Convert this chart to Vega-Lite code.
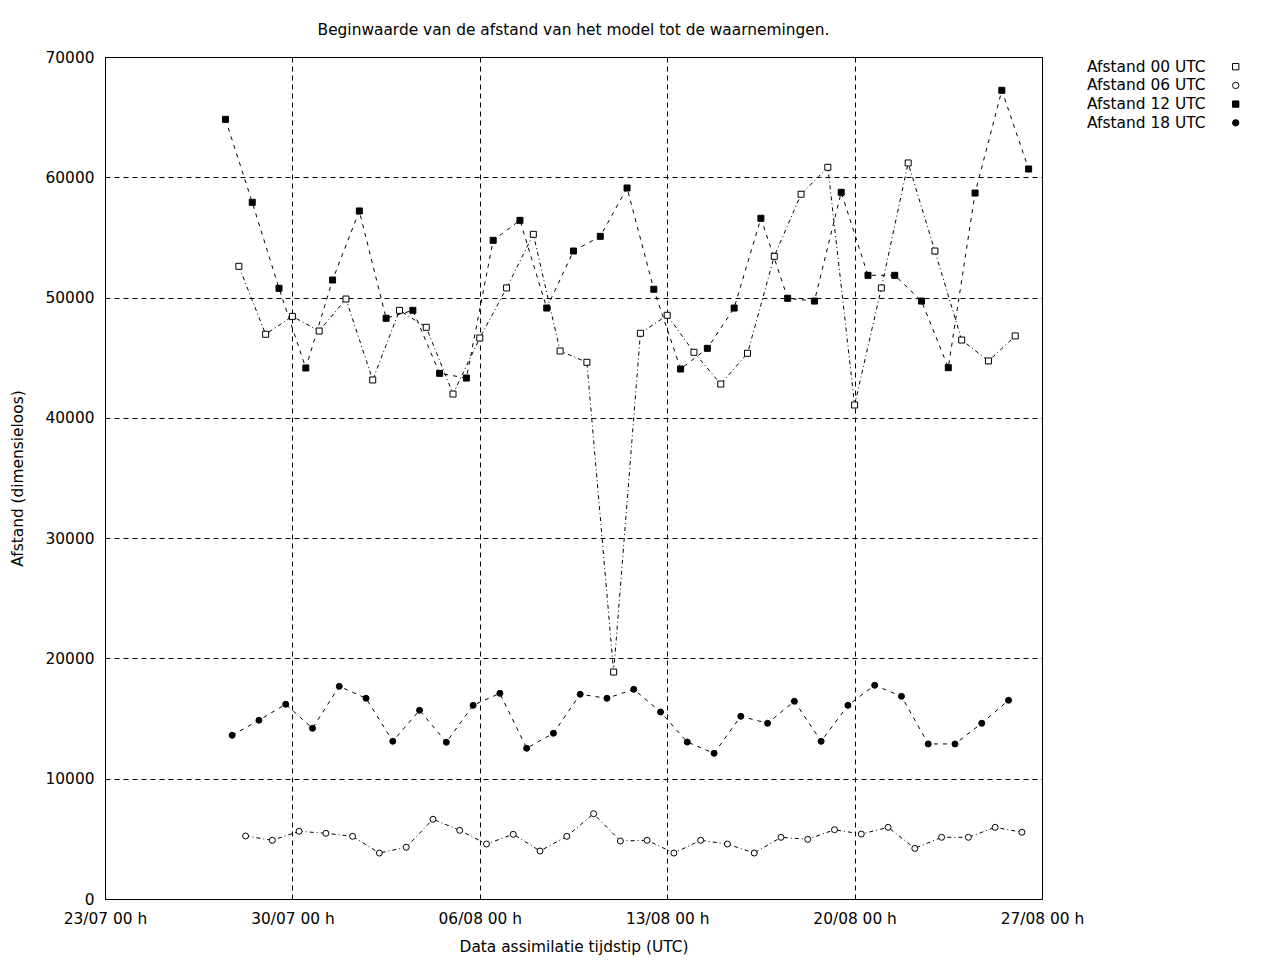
{
  "$schema": "https://vega.github.io/schema/vega-lite/v6.json",
  "width": 937,
  "height": 842,
  "autosize": {"type": "none"},
  "padding": {"left": 105, "top": 57, "right": 238, "bottom": 61},
  "background": "white",
  "title": {
    "text": "Beginwaarde van de afstand van het model tot de waarnemingen.",
    "fontSize": 15.4,
    "fontWeight": "normal",
    "font": "DejaVu Sans",
    "color": "black",
    "anchor": "middle",
    "offset": 12
  },
  "datasets": {
    "afstand": [
      {"t": "2023-07-28T00:00:00Z", "s": "Afstand 00 UTC", "v": 52600},
      {"t": "2023-07-29T00:00:00Z", "s": "Afstand 00 UTC", "v": 46950},
      {"t": "2023-07-30T00:00:00Z", "s": "Afstand 00 UTC", "v": 48440},
      {"t": "2023-07-31T00:00:00Z", "s": "Afstand 00 UTC", "v": 47220},
      {"t": "2023-08-01T00:00:00Z", "s": "Afstand 00 UTC", "v": 49880},
      {"t": "2023-08-02T00:00:00Z", "s": "Afstand 00 UTC", "v": 43150},
      {"t": "2023-08-03T00:00:00Z", "s": "Afstand 00 UTC", "v": 48940},
      {"t": "2023-08-04T00:00:00Z", "s": "Afstand 00 UTC", "v": 47530},
      {"t": "2023-08-05T00:00:00Z", "s": "Afstand 00 UTC", "v": 41980},
      {"t": "2023-08-06T00:00:00Z", "s": "Afstand 00 UTC", "v": 46640},
      {"t": "2023-08-07T00:00:00Z", "s": "Afstand 00 UTC", "v": 50800},
      {"t": "2023-08-08T00:00:00Z", "s": "Afstand 00 UTC", "v": 55260},
      {"t": "2023-08-09T00:00:00Z", "s": "Afstand 00 UTC", "v": 45560},
      {"t": "2023-08-10T00:00:00Z", "s": "Afstand 00 UTC", "v": 44620},
      {"t": "2023-08-11T00:00:00Z", "s": "Afstand 00 UTC", "v": 18870},
      {"t": "2023-08-12T00:00:00Z", "s": "Afstand 00 UTC", "v": 47030},
      {"t": "2023-08-13T00:00:00Z", "s": "Afstand 00 UTC", "v": 48530},
      {"t": "2023-08-14T00:00:00Z", "s": "Afstand 00 UTC", "v": 45450},
      {"t": "2023-08-15T00:00:00Z", "s": "Afstand 00 UTC", "v": 42810},
      {"t": "2023-08-16T00:00:00Z", "s": "Afstand 00 UTC", "v": 45370},
      {"t": "2023-08-17T00:00:00Z", "s": "Afstand 00 UTC", "v": 53430},
      {"t": "2023-08-18T00:00:00Z", "s": "Afstand 00 UTC", "v": 58590},
      {"t": "2023-08-19T00:00:00Z", "s": "Afstand 00 UTC", "v": 60830},
      {"t": "2023-08-20T00:00:00Z", "s": "Afstand 00 UTC", "v": 41070},
      {"t": "2023-08-21T00:00:00Z", "s": "Afstand 00 UTC", "v": 50800},
      {"t": "2023-08-22T00:00:00Z", "s": "Afstand 00 UTC", "v": 61190},
      {"t": "2023-08-23T00:00:00Z", "s": "Afstand 00 UTC", "v": 53870},
      {"t": "2023-08-24T00:00:00Z", "s": "Afstand 00 UTC", "v": 46470},
      {"t": "2023-08-25T00:00:00Z", "s": "Afstand 00 UTC", "v": 44730},
      {"t": "2023-08-26T00:00:00Z", "s": "Afstand 00 UTC", "v": 46810},

      {"t": "2023-07-28T06:00:00Z", "s": "Afstand 06 UTC", "v": 5240},
      {"t": "2023-07-29T06:00:00Z", "s": "Afstand 06 UTC", "v": 4880},
      {"t": "2023-07-30T06:00:00Z", "s": "Afstand 06 UTC", "v": 5630},
      {"t": "2023-07-31T06:00:00Z", "s": "Afstand 06 UTC", "v": 5460},
      {"t": "2023-08-01T06:00:00Z", "s": "Afstand 06 UTC", "v": 5210},
      {"t": "2023-08-02T06:00:00Z", "s": "Afstand 06 UTC", "v": 3820},
      {"t": "2023-08-03T06:00:00Z", "s": "Afstand 06 UTC", "v": 4300},
      {"t": "2023-08-04T06:00:00Z", "s": "Afstand 06 UTC", "v": 6630},
      {"t": "2023-08-05T06:00:00Z", "s": "Afstand 06 UTC", "v": 5710},
      {"t": "2023-08-06T06:00:00Z", "s": "Afstand 06 UTC", "v": 4570},
      {"t": "2023-08-07T06:00:00Z", "s": "Afstand 06 UTC", "v": 5380},
      {"t": "2023-08-08T06:00:00Z", "s": "Afstand 06 UTC", "v": 3990},
      {"t": "2023-08-09T06:00:00Z", "s": "Afstand 06 UTC", "v": 5210},
      {"t": "2023-08-10T06:00:00Z", "s": "Afstand 06 UTC", "v": 7090},
      {"t": "2023-08-11T06:00:00Z", "s": "Afstand 06 UTC", "v": 4820},
      {"t": "2023-08-12T06:00:00Z", "s": "Afstand 06 UTC", "v": 4880},
      {"t": "2023-08-13T06:00:00Z", "s": "Afstand 06 UTC", "v": 3820},
      {"t": "2023-08-14T06:00:00Z", "s": "Afstand 06 UTC", "v": 4880},
      {"t": "2023-08-15T06:00:00Z", "s": "Afstand 06 UTC", "v": 4570},
      {"t": "2023-08-16T06:00:00Z", "s": "Afstand 06 UTC", "v": 3820},
      {"t": "2023-08-17T06:00:00Z", "s": "Afstand 06 UTC", "v": 5130},
      {"t": "2023-08-18T06:00:00Z", "s": "Afstand 06 UTC", "v": 4960},
      {"t": "2023-08-19T06:00:00Z", "s": "Afstand 06 UTC", "v": 5760},
      {"t": "2023-08-20T06:00:00Z", "s": "Afstand 06 UTC", "v": 5400},
      {"t": "2023-08-21T06:00:00Z", "s": "Afstand 06 UTC", "v": 5960},
      {"t": "2023-08-22T06:00:00Z", "s": "Afstand 06 UTC", "v": 4210},
      {"t": "2023-08-23T06:00:00Z", "s": "Afstand 06 UTC", "v": 5130},
      {"t": "2023-08-24T06:00:00Z", "s": "Afstand 06 UTC", "v": 5130},
      {"t": "2023-08-25T06:00:00Z", "s": "Afstand 06 UTC", "v": 5960},
      {"t": "2023-08-26T06:00:00Z", "s": "Afstand 06 UTC", "v": 5550},

      {"t": "2023-07-27T12:00:00Z", "s": "Afstand 12 UTC", "v": 64820},
      {"t": "2023-07-28T12:00:00Z", "s": "Afstand 12 UTC", "v": 57920},
      {"t": "2023-07-29T12:00:00Z", "s": "Afstand 12 UTC", "v": 50770},
      {"t": "2023-07-30T12:00:00Z", "s": "Afstand 12 UTC", "v": 44145},
      {"t": "2023-07-31T12:00:00Z", "s": "Afstand 12 UTC", "v": 51460},
      {"t": "2023-08-01T12:00:00Z", "s": "Afstand 12 UTC", "v": 57200},
      {"t": "2023-08-02T12:00:00Z", "s": "Afstand 12 UTC", "v": 48280},
      {"t": "2023-08-03T12:00:00Z", "s": "Afstand 12 UTC", "v": 48940},
      {"t": "2023-08-04T12:00:00Z", "s": "Afstand 12 UTC", "v": 43700},
      {"t": "2023-08-05T12:00:00Z", "s": "Afstand 12 UTC", "v": 43310},
      {"t": "2023-08-06T12:00:00Z", "s": "Afstand 12 UTC", "v": 54760},
      {"t": "2023-08-07T12:00:00Z", "s": "Afstand 12 UTC", "v": 56420},
      {"t": "2023-08-08T12:00:00Z", "s": "Afstand 12 UTC", "v": 49130},
      {"t": "2023-08-09T12:00:00Z", "s": "Afstand 12 UTC", "v": 53870},
      {"t": "2023-08-10T12:00:00Z", "s": "Afstand 12 UTC", "v": 55090},
      {"t": "2023-08-11T12:00:00Z", "s": "Afstand 12 UTC", "v": 59110},
      {"t": "2023-08-12T12:00:00Z", "s": "Afstand 12 UTC", "v": 50690},
      {"t": "2023-08-13T12:00:00Z", "s": "Afstand 12 UTC", "v": 44060},
      {"t": "2023-08-14T12:00:00Z", "s": "Afstand 12 UTC", "v": 45780},
      {"t": "2023-08-15T12:00:00Z", "s": "Afstand 12 UTC", "v": 49130},
      {"t": "2023-08-16T12:00:00Z", "s": "Afstand 12 UTC", "v": 56590},
      {"t": "2023-08-17T12:00:00Z", "s": "Afstand 12 UTC", "v": 49940},
      {"t": "2023-08-18T12:00:00Z", "s": "Afstand 12 UTC", "v": 49710},
      {"t": "2023-08-19T12:00:00Z", "s": "Afstand 12 UTC", "v": 58750},
      {"t": "2023-08-20T12:00:00Z", "s": "Afstand 12 UTC", "v": 51850},
      {"t": "2023-08-21T12:00:00Z", "s": "Afstand 12 UTC", "v": 51850},
      {"t": "2023-08-22T12:00:00Z", "s": "Afstand 12 UTC", "v": 49710},
      {"t": "2023-08-23T12:00:00Z", "s": "Afstand 12 UTC", "v": 44170},
      {"t": "2023-08-24T12:00:00Z", "s": "Afstand 12 UTC", "v": 58690},
      {"t": "2023-08-25T12:00:00Z", "s": "Afstand 12 UTC", "v": 67230},
      {"t": "2023-08-26T12:00:00Z", "s": "Afstand 12 UTC", "v": 60690},

      {"t": "2023-07-27T18:00:00Z", "s": "Afstand 18 UTC", "v": 13610},
      {"t": "2023-07-28T18:00:00Z", "s": "Afstand 18 UTC", "v": 14860},
      {"t": "2023-07-29T18:00:00Z", "s": "Afstand 18 UTC", "v": 16190},
      {"t": "2023-07-30T18:00:00Z", "s": "Afstand 18 UTC", "v": 14190},
      {"t": "2023-07-31T18:00:00Z", "s": "Afstand 18 UTC", "v": 17680},
      {"t": "2023-08-01T18:00:00Z", "s": "Afstand 18 UTC", "v": 16690},
      {"t": "2023-08-02T18:00:00Z", "s": "Afstand 18 UTC", "v": 13110},
      {"t": "2023-08-03T18:00:00Z", "s": "Afstand 18 UTC", "v": 15690},
      {"t": "2023-08-04T18:00:00Z", "s": "Afstand 18 UTC", "v": 13030},
      {"t": "2023-08-05T18:00:00Z", "s": "Afstand 18 UTC", "v": 16100},
      {"t": "2023-08-06T18:00:00Z", "s": "Afstand 18 UTC", "v": 17100},
      {"t": "2023-08-07T18:00:00Z", "s": "Afstand 18 UTC", "v": 12530},
      {"t": "2023-08-08T18:00:00Z", "s": "Afstand 18 UTC", "v": 13780},
      {"t": "2023-08-09T18:00:00Z", "s": "Afstand 18 UTC", "v": 17020},
      {"t": "2023-08-10T18:00:00Z", "s": "Afstand 18 UTC", "v": 16690},
      {"t": "2023-08-11T18:00:00Z", "s": "Afstand 18 UTC", "v": 17430},
      {"t": "2023-08-12T18:00:00Z", "s": "Afstand 18 UTC", "v": 15550},
      {"t": "2023-08-13T18:00:00Z", "s": "Afstand 18 UTC", "v": 13050},
      {"t": "2023-08-14T18:00:00Z", "s": "Afstand 18 UTC", "v": 12110},
      {"t": "2023-08-15T18:00:00Z", "s": "Afstand 18 UTC", "v": 15190},
      {"t": "2023-08-16T18:00:00Z", "s": "Afstand 18 UTC", "v": 14610},
      {"t": "2023-08-17T18:00:00Z", "s": "Afstand 18 UTC", "v": 16440},
      {"t": "2023-08-18T18:00:00Z", "s": "Afstand 18 UTC", "v": 13110},
      {"t": "2023-08-19T18:00:00Z", "s": "Afstand 18 UTC", "v": 16100},
      {"t": "2023-08-20T18:00:00Z", "s": "Afstand 18 UTC", "v": 17770},
      {"t": "2023-08-21T18:00:00Z", "s": "Afstand 18 UTC", "v": 16850},
      {"t": "2023-08-22T18:00:00Z", "s": "Afstand 18 UTC", "v": 12890},
      {"t": "2023-08-23T18:00:00Z", "s": "Afstand 18 UTC", "v": 12890},
      {"t": "2023-08-24T18:00:00Z", "s": "Afstand 18 UTC", "v": 14610},
      {"t": "2023-08-25T18:00:00Z", "s": "Afstand 18 UTC", "v": 16520}
    ]
  },
  "data": {"name": "afstand"},
  "encoding": {
    "x": {
      "field": "t",
      "type": "temporal",
      "scale": {
        "type": "utc",
        "nice": false,
        "domain": [
          {"year": 2023, "month": 7, "date": 23, "utc": true},
          {"year": 2023, "month": 8, "date": 27, "utc": true}
        ]
      },
      "axis": {
        "title": "Data assimilatie tijdstip (UTC)",
        "format": "%d/%m %H h",
        "values": [
          {"year": 2023, "month": 7, "date": 23, "utc": true},
          {"year": 2023, "month": 7, "date": 30, "utc": true},
          {"year": 2023, "month": 8, "date": 6, "utc": true},
          {"year": 2023, "month": 8, "date": 13, "utc": true},
          {"year": 2023, "month": 8, "date": 20, "utc": true},
          {"year": 2023, "month": 8, "date": 27, "utc": true}
        ],
        "labelPadding": 12,
        "titlePadding": 13
      }
    },
    "y": {
      "field": "v",
      "type": "quantitative",
      "scale": {"domain": [0, 70000], "nice": false},
      "axis": {
        "title": "Afstand (dimensieloos)",
        "values": [0, 10000, 20000, 30000, 40000, 50000, 60000, 70000],
        "format": "d",
        "labelPadding": 11,
        "titlePadding": 20
      }
    }
  },
  "layer": [
    {
      "mark": {"type": "line", "color": "black", "strokeWidth": 1},
      "encoding": {
        "strokeDash": {
          "field": "s",
          "type": "nominal",
          "scale": {"range": [[4, 3, 1, 3], [4, 3, 1, 3], [4, 5], [4, 5]]},
          "legend": null
        }
      }
    },
    {
      "mark": {"type": "point", "filled": true, "strokeWidth": 1, "size": 36, "opacity": 1},
      "encoding": {
        "shape": {
          "field": "s",
          "type": "nominal",
          "scale": {
            "domain": ["Afstand 00 UTC", "Afstand 06 UTC", "Afstand 12 UTC", "Afstand 18 UTC"],
            "range": ["square", "circle", "square", "circle"]
          },
          "legend": {
            "title": null,
            "orient": "none",
            "legendX": 1123,
            "legendY": 2,
            "padding": 0,
            "symbolSize": 40,
            "symbolStrokeWidth": 1,
            "labelAlign": "right",
            "labelOffset": -38,
            "labelFontSize": 15.4,
            "labelColor": "black",
            "rowPadding": 1.7
          }
        },
        "fill": {
          "field": "s",
          "type": "nominal",
          "scale": {
            "domain": ["Afstand 00 UTC", "Afstand 06 UTC", "Afstand 12 UTC", "Afstand 18 UTC"],
            "range": ["white", "white", "black", "black"]
          },
          "legend": {"title": null, "orient": "none", "legendX": 1123, "legendY": 2}
        },
        "stroke": {
          "field": "s",
          "type": "nominal",
          "scale": {
            "domain": ["Afstand 00 UTC", "Afstand 06 UTC", "Afstand 12 UTC", "Afstand 18 UTC"],
            "range": ["black", "black", "black", "black"]
          },
          "legend": {"title": null, "orient": "none", "legendX": 1123, "legendY": 2}
        }
      }
    }
  ],
  "config": {
    "font": "DejaVu Sans",
    "view": {"stroke": "black", "strokeWidth": 1},
    "axis": {
      "domain": false,
      "ticks": false,
      "grid": true,
      "gridColor": "black",
      "gridOpacity": 1,
      "gridWidth": 1,
      "gridDash": [5, 4],
      "labelFont": "DejaVu Sans",
      "labelFontSize": 15.4,
      "labelColor": "black",
      "labelFlush": false,
      "labelOverlap": false,
      "titleFont": "DejaVu Sans",
      "titleFontSize": 15.4,
      "titleFontWeight": "normal",
      "titleColor": "black"
    },
    "legend": {"labelFont": "DejaVu Sans"}
  }
}
